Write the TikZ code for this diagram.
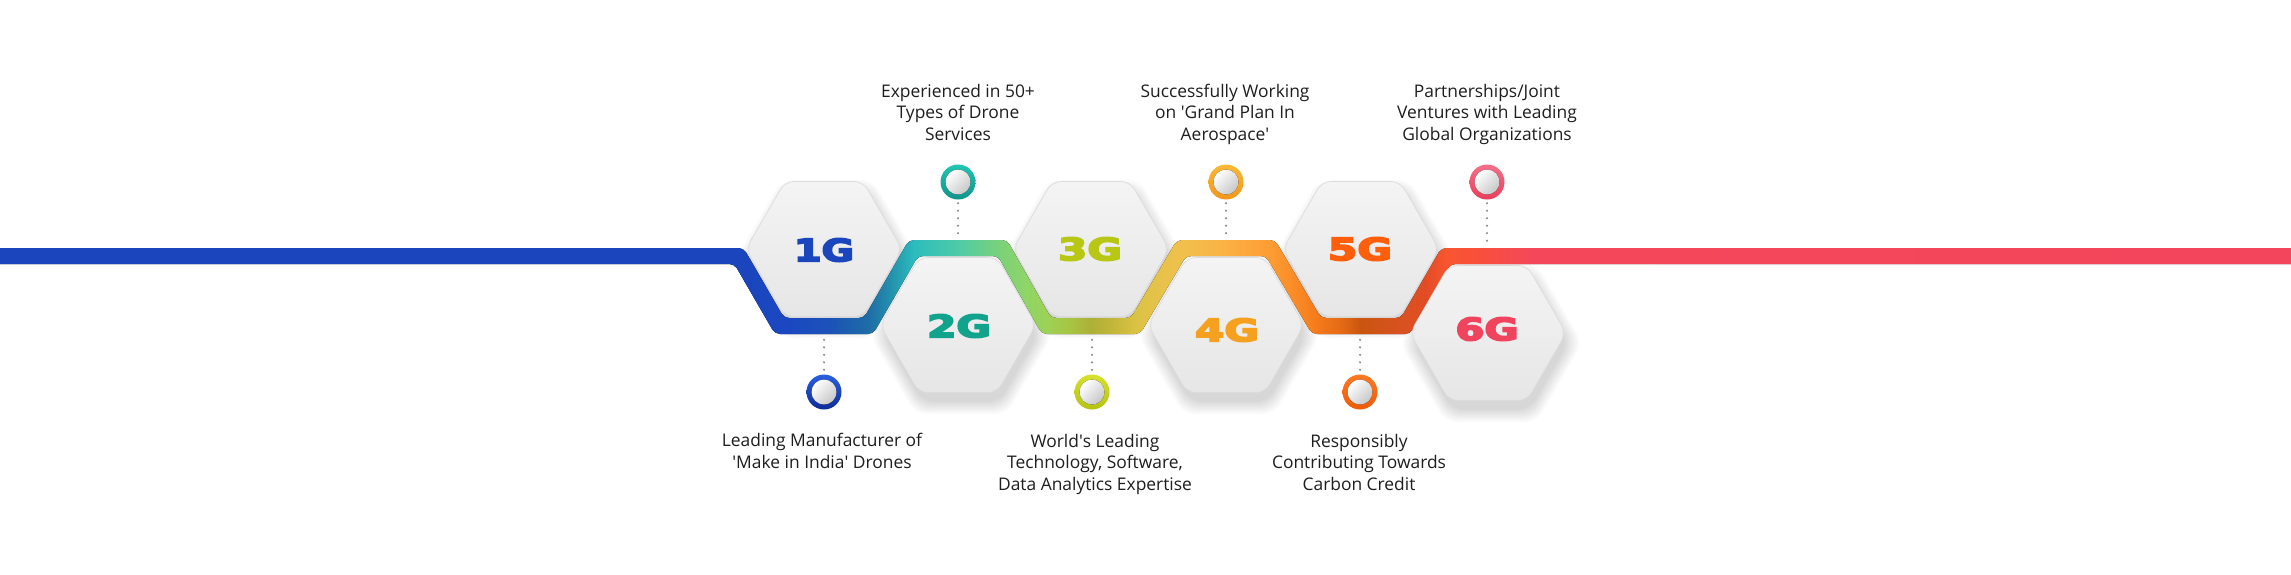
\documentclass[tikz,border=0pt]{standalone}
\usepackage{fontspec}
\setmainfont{Open Sans}
\newfontfamily\gfont{DejaVu Sans Bold}[FakeBold=5]
\usepackage{graphicx}
\usetikzlibrary{shapes.geometric,calc}
\newcommand{\sq}{\XeTeXglyph\XeTeXcharglyph"27\relax}
\newcommand{\glabel}[2]{\resizebox{#1pt}{23pt}{\gfont #2}}
% ribbon stops
\definecolor{rb0}{HTML}{1A45BD}\definecolor{rb1}{HTML}{1A45BD}
\definecolor{rb2}{HTML}{1B48C2}\definecolor{rb3}{HTML}{1C52B8}
\definecolor{rb4}{HTML}{1E6CA6}\definecolor{rb5}{HTML}{2495AE}
\definecolor{rb6}{HTML}{2CBCBE}\definecolor{rb7}{HTML}{4ECBA6}
\definecolor{rb8}{HTML}{7DD276}\definecolor{rb9}{HTML}{8FD567}
\definecolor{rb10}{HTML}{9DD156}\definecolor{rb11}{HTML}{A7C443}
\definecolor{rb12}{HTML}{ADB037}\definecolor{rb13}{HTML}{C3B63A}
\definecolor{rb14}{HTML}{DBC244}\definecolor{rb15}{HTML}{E6C24A}
\definecolor{rb16}{HTML}{F0C04C}\definecolor{rb17}{HTML}{FBB145}
\definecolor{rb18}{HTML}{FD9C33}\definecolor{rb19}{HTML}{FA8B27}
\definecolor{rb20}{HTML}{F57B1B}\definecolor{rb21}{HTML}{E66B15}
\definecolor{rb22}{HTML}{C9550F}\definecolor{rb23}{HTML}{D2531A}
\definecolor{rb24}{HTML}{DA5121}\definecolor{rb25}{HTML}{E24C24}
\definecolor{rb26}{HTML}{F8552F}\definecolor{rb27}{HTML}{F84F3C}
\definecolor{rb28}{HTML}{F4485A}\definecolor{rb29}{HTML}{F3455C}
% hex
\definecolor{hexT}{HTML}{F4F4F4}\definecolor{hexB}{HTML}{E6E6E6}\definecolor{hexE}{HTML}{DCDCDC}
% rings and labels
\definecolor{ra1}{HTML}{2A5EE0}\definecolor{rz1}{HTML}{0D2C96}\definecolor{gt1}{HTML}{1A45BD}
\definecolor{ra2}{HTML}{20C6B2}\definecolor{rz2}{HTML}{0E958A}\definecolor{gt2}{HTML}{12A38C}
\definecolor{ra3}{HTML}{D8E22E}\definecolor{rz3}{HTML}{B4C20F}\definecolor{gt3}{HTML}{B7C714}
\definecolor{ra4}{HTML}{FCB935}\definecolor{rz4}{HTML}{F2951A}\definecolor{gt4}{HTML}{F6A01F}
\definecolor{ra5}{HTML}{FF7A22}\definecolor{rz5}{HTML}{EE5A06}\definecolor{gt5}{HTML}{FF5E0A}
\definecolor{ra6}{HTML}{F6708A}\definecolor{rz6}{HTML}{E93D58}\definecolor{gt6}{HTML}{F0445E}
\definecolor{txt}{HTML}{1E1E1E}\definecolor{dotc}{HTML}{8C8C8C}
\begin{document}
\begin{tikzpicture}[x=1pt,y=-1pt,
  hexa/.style={regular polygon, regular polygon sides=6, minimum size=156pt, inner sep=0pt,
    rounded corners=9pt, top color=hexT, bottom color=hexB, draw=hexE, line width=0.7pt},
  glab/.style={inner sep=0pt},
  ring/.style={circle, minimum size=35pt, inner sep=0pt},
  disk/.style={top color=white, bottom color=black!22, shading angle=45},
  dotline/.style={dotc, line width=2.4pt, line cap=round, dash pattern=on 0pt off 7.5pt},
  desc/.style={align=center, font=\fontsize{17.4}{21.4}\selectfont, text=txt, inner sep=0pt, anchor=base}]
\useasboundingbox (0,0) rectangle (2291,574);
\fill[white] (0,0) rectangle (2291,574);

% hexagon soft shadows
\foreach \hx/\hy in {824/249, 958/325, 1091/249, 1226/325, 1361/249, 1488/333} {
  \foreach \k in {0,...,9} {
    \pgfmathsetmacro\rr{77+\k*1.6}
    \fill[black, opacity=0.016, rounded corners=12pt, shift={(\hx+3,\hy+10)}]
      (0:\rr) -- (60:\rr) -- (120:\rr) -- (180:\rr) -- (240:\rr) -- (300:\rr) -- cycle;
  }
}

% ribbon
\begin{scope}
\clip[rounded corners=5pt] (-6,248) -- (743.6,248) -- (784.1,318) -- (863.9,318) -- (908.9,240)
  -- (1007.1,240) -- (1051.1,318) -- (1130.9,318) -- (1176.9,240) -- (1275.1,240)
  -- (1321.1,318) -- (1400.9,318) -- (1441.3,248) -- (2297,248) -- (2297,264)
  -- (1450.5,264) -- (1410.1,334) -- (1311.9,334) -- (1265.9,256) -- (1186.1,256)
  -- (1140.1,334) -- (1041.9,334) -- (997.9,256) -- (918.1,256) -- (873.1,334)
  -- (774.9,334) -- (734.4,264) -- (-6,264) -- cycle;
\foreach \xa/\ca/\xb/\cb in {-6/rb0/745/rb1, 745/rb1/790/rb2, 790/rb2/830/rb3, 830/rb3/868/rb4,
  868/rb4/893/rb5, 893/rb5/914/rb6, 914/rb6/958/rb7, 958/rb7/1003/rb8, 1003/rb8/1026/rb9,
  1026/rb9/1048/rb10, 1048/rb10/1070/rb11, 1070/rb11/1091/rb12, 1091/rb12/1113/rb13,
  1113/rb13/1136/rb14, 1136/rb14/1158/rb15, 1158/rb15/1181/rb16, 1181/rb16/1226/rb17,
  1226/rb17/1271/rb18, 1271/rb18/1294/rb19, 1294/rb19/1316/rb20, 1316/rb20/1340/rb21,
  1340/rb21/1361/rb22, 1361/rb22/1384/rb23, 1384/rb23/1405/rb24, 1405/rb24/1425/rb25,
  1425/rb25/1446/rb26, 1446/rb26/1480/rb27, 1480/rb27/1530/rb28, 1530/rb28/2297/rb29} {
  \fill[left color=\ca, right color=\cb] (\xa-0.4,230) rectangle (\xb+0.4,345);
}
\end{scope}

% hexagons
\node[hexa] (h1) at (824,249) {};
\node[hexa] (h2) at (958,325) {};
\node[hexa] (h3) at (1091,249) {};
\node[hexa] (h4) at (1226,325) {};
\node[hexa] (h5) at (1361,249) {};
\node[hexa] (h6) at (1488,333) {};

% generation labels
\node[glab, text=gt1] (g1) at (824,250) {\glabel{60}{1G}};
\node[glab, text=gt2] (g2) at (959,326) {\glabel{64}{2G}};
\node[glab, text=gt3] (g3) at (1090,249) {\glabel{64}{3G}};
\node[glab, text=gt4] (g4) at (1227,330) {\glabel{64}{4G}};
\node[glab, text=gt5] (g5) at (1360,249) {\glabel{64}{5G}};
\node[glab, text=gt6] (g6) at (1487,329) {\glabel{63}{6G}};

% markers
\coordinate (r1) at (824,338);
\coordinate (r2) at (958,237);
\coordinate (r3) at (1092,338);
\coordinate (r4) at (1226,237);
\coordinate (r5) at (1360,338);
\coordinate (r6) at (1487,243);

\node[ring, top color=ra1, bottom color=rz1] (c1) at (824,392) {};
\node[ring, top color=ra2, bottom color=rz2] (c2) at (958,182) {};
\node[ring, top color=ra3, bottom color=rz3] (c3) at (1092,392) {};
\node[ring, top color=ra4, bottom color=rz4] (c4) at (1226,182) {};
\node[ring, top color=ra5, bottom color=rz5] (c5) at (1360,392) {};
\node[ring, top color=ra6, bottom color=rz6] (c6) at (1487,182) {};
\foreach \c in {c1,c2,c3,c4,c5,c6} { \fill[disk] (\c.center) circle[radius=12.5]; }

\draw[dotline] ([yshift=4.5pt]c1.north) -- (r1);
\draw[dotline] ([yshift=-3.5pt]c2.south) -- (r2);
\draw[dotline] ([yshift=4.5pt]c3.north) -- (r3);
\draw[dotline] ([yshift=-3.5pt]c4.south) -- (r4);
\draw[dotline] ([yshift=4.5pt]c5.north) -- (r5);
\draw[dotline] ([yshift=-3.5pt]c6.south) -- (r6);

% descriptions (anchor = baseline of the last line)
\node[desc] (t2) at (958,140) {Experienced in 50+\\Types of Drone\\Services};
\node[desc] (t4) at (1225,140) {Successfully Working\\on \sq Grand Plan In\\Aerospace\sq};
\node[desc] (t6) at (1487,140) {Partnerships/Joint\\Ventures with Leading\\Global Organizations};
\node[desc] (t1) at (822,468.3) {Leading Manufacturer of\\\sq Make in India\sq{} Drones};
\node[desc] (t3) at (1095,490) {World\sq s Leading\\Technology, Software,\\Data Analytics Expertise};
\node[desc] (t5) at (1359,490) {Responsibly\\Contributing Towards\\Carbon Credit};
\end{tikzpicture}
\end{document}
